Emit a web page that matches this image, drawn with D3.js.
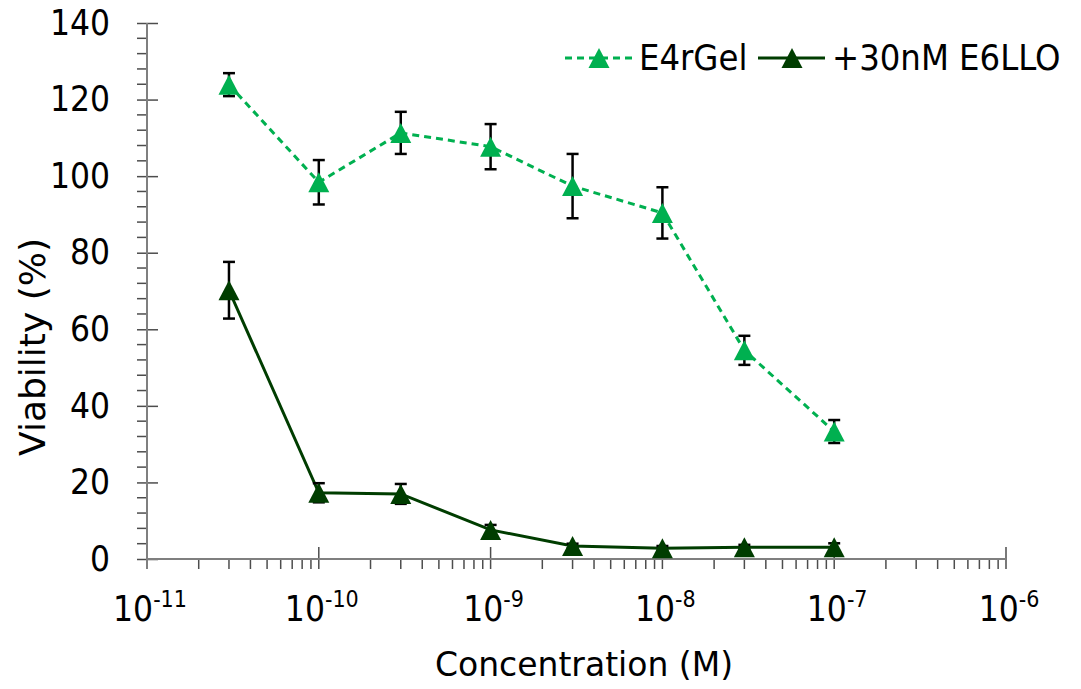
<!DOCTYPE html>
<html>
<head>
<meta charset="utf-8">
<script src="https://cdn.jsdelivr.net/npm/d3@7"></script>
<style>
  html, body { margin: 0; padding: 0; background: #fff; }
  svg { display: block; font-family: "DejaVu Sans Condensed", "DejaVu Sans", sans-serif; }
  .wide { font-family: "DejaVu Sans", sans-serif; }
</style>
</head>
<body>
<svg id="chart" width="1081" height="689"></svg>
<script>
// Concentrations (M)
const concentrations = [3e-11, 1e-10, 3e-10, 1e-9, 3e-9, 1e-8, 3e-8, 1e-7];

// E4rGel alone: mean viability (%) and error
const gelMean = [123.9, 98.4, 111.3, 107.7, 97.4, 90.4, 54.5, 33.3];
const gelErr  = [3.0, 5.8, 5.5, 5.9, 8.4, 6.7, 3.8, 3.0];

// E4rGel + 30 nM E6LLO
const comboMean = [70.2, 17.3, 17.0, 7.6, 3.4, 2.8, 3.1, 3.1];
const comboErr  = [7.4, 2.5, 2.6, 1.3, 0.6, 0.6, 0.6, 1.0];

const seriesNames = ["E4rGel", "+30nM E6LLO"];
const yMajorTicks = [0, 20, 40, 60, 80, 100, 120, 140];
const xDecades = [-11, -10, -9, -8, -7, -6];

const lightGreen = "#00b050";
const darkGreen = "#003d00";

const svg = d3.select("#chart");

const x = d3.scaleLog().domain([1e-11, 1e-6]).range([147, 1006]);
const y = d3.scaleLinear().domain([0, 140]).range([559, 23]);

const axisColor = "#7f7f7f";
const tickColor = "#4d4d4d";

// ---- Y axis ----
const yMinor = d3.range(0, 141, 4).filter(v => v % 20 !== 0);
svg.append("g").selectAll("line").data(yMinor).join("line")
  .attr("x1", x.range()[0] - 10).attr("x2", x.range()[0])
  .attr("y1", d => y(d)).attr("y2", d => y(d))
  .attr("stroke", tickColor).attr("stroke-width", 1.5);

const yAxis = svg.append("g")
  .attr("transform", `translate(${x.range()[0]},0)`)
  .call(d3.axisLeft(y).tickValues(yMajorTicks).tickSize(10).tickPadding(27).tickSizeOuter(0));
yAxis.select(".domain").remove();
yAxis.selectAll(".tick line").attr("x1", 11).attr("stroke", tickColor).attr("stroke-width", 1.5);
yAxis.selectAll(".tick text")
  .attr("font-size", 35).attr("fill", "#000")
  .attr("font-family", "'DejaVu Sans Condensed', 'DejaVu Sans', sans-serif");

// ---- X axis ----
const xMinor = [];
xDecades.slice(0, -1).forEach(e => {
  for (let k = 2; k <= 9; k++) xMinor.push(k * Math.pow(10, e));
});
svg.append("g").selectAll("line").data(xMinor).join("line")
  .attr("x1", d => x(d)).attr("x2", d => x(d))
  .attr("y1", y.range()[0]).attr("y2", y.range()[0] + 10)
  .attr("stroke", tickColor).attr("stroke-width", 1.5);

const xMajor = xDecades.map(e => Math.pow(10, e));
svg.append("g").selectAll("line").data(xMajor).join("line")
  .attr("x1", d => x(d)).attr("x2", d => x(d))
  .attr("y1", y.range()[0] - 12).attr("y2", y.range()[0] + 10)
  .attr("stroke", tickColor).attr("stroke-width", 1.5);

const xLabels = svg.append("g").selectAll("text").data(xDecades).join("text")
  .attr("x", d => x(Math.pow(10, d)) + 3)
  .attr("y", 621)
  .attr("text-anchor", "middle")
  .attr("font-size", 35).attr("fill", "#000");
xLabels.append("tspan").text("10");
xLabels.append("tspan").attr("dy", -14).attr("font-size", 23).text(d => String(d));

// axis lines
svg.append("line")
  .attr("x1", x.range()[0]).attr("x2", x.range()[0])
  .attr("y1", y.range()[1]).attr("y2", y.range()[0] + 10)
  .attr("stroke", axisColor).attr("stroke-width", 2);
svg.append("line")
  .attr("x1", x.range()[0]).attr("x2", x.range()[1])
  .attr("y1", y.range()[0]).attr("y2", y.range()[0])
  .attr("stroke", axisColor).attr("stroke-width", 2);

// axis titles
svg.append("text").attr("class", "wide")
  .attr("x", 584).attr("y", 676)
  .attr("text-anchor", "middle").attr("font-size", 33).attr("fill", "#000")
  .text("Concentration (M)");
svg.append("text").attr("class", "wide")
  .attr("transform", "translate(45,347) rotate(-90)")
  .attr("text-anchor", "middle").attr("font-size", 36).attr("fill", "#000")
  .text("Viability (%)");

// ---- series ----
function triangle(cx, cy, w, h) {
  return `M${cx},${cy - h / 2}L${cx + w / 2},${cy + h / 2}L${cx - w / 2},${cy + h / 2}Z`;
}

function drawSeries(means, errs, color, dash) {
  const pts = concentrations.map((c, i) => ({ c, m: means[i], e: errs[i] }));
  const g = svg.append("g");
  g.append("path")
    .datum(pts)
    .attr("fill", "none")
    .attr("stroke", color)
    .attr("stroke-width", 3)
    .attr("stroke-dasharray", dash ? "7,5" : null)
    .attr("d", d3.line().x(d => x(d.c)).y(d => y(d.m)));

  const eb = g.append("g").attr("stroke", "#000").attr("stroke-width", 2.5);
  eb.selectAll("line.v").data(pts).join("line").attr("class", "v")
    .attr("x1", d => x(d.c)).attr("x2", d => x(d.c))
    .attr("y1", d => y(d.m + d.e)).attr("y2", d => y(d.m - d.e));
  eb.selectAll("line.t").data(pts).join("line").attr("class", "t")
    .attr("x1", d => x(d.c) - 6).attr("x2", d => x(d.c) + 6)
    .attr("y1", d => y(d.m + d.e)).attr("y2", d => y(d.m + d.e));
  eb.selectAll("line.b").data(pts).join("line").attr("class", "b")
    .attr("x1", d => x(d.c) - 6).attr("x2", d => x(d.c) + 6)
    .attr("y1", d => y(d.m - d.e)).attr("y2", d => y(d.m - d.e));

  g.selectAll("path.mk").data(pts).join("path").attr("class", "mk")
    .attr("d", d => triangle(x(d.c), y(d.m), 21, 20))
    .attr("fill", color);
}

drawSeries(gelMean, gelErr, lightGreen, true);
drawSeries(comboMean, comboErr, darkGreen, false);

// ---- legend ----
const legend = svg.append("g");
const legendItems = [
  { name: seriesNames[0], color: lightGreen, dash: true, x0: 565 },
  { name: seriesNames[1], color: darkGreen, dash: false, x0: 758 }
];
legendItems.forEach(it => {
  legend.append("line")
    .attr("x1", it.x0).attr("x2", it.x0 + 67).attr("y1", 58).attr("y2", 58)
    .attr("stroke", it.color).attr("stroke-width", 3)
    .attr("stroke-dasharray", it.dash ? "7,5" : null);
  legend.append("path").attr("d", triangle(it.x0 + 34, 58, 21, 20)).attr("fill", it.color);
  legend.append("text")
    .attr("x", it.x0 + 74).attr("y", 70)
    .attr("font-size", 36).attr("fill", "#000")
    .text(it.name);
});
</script>
</body>
</html>
